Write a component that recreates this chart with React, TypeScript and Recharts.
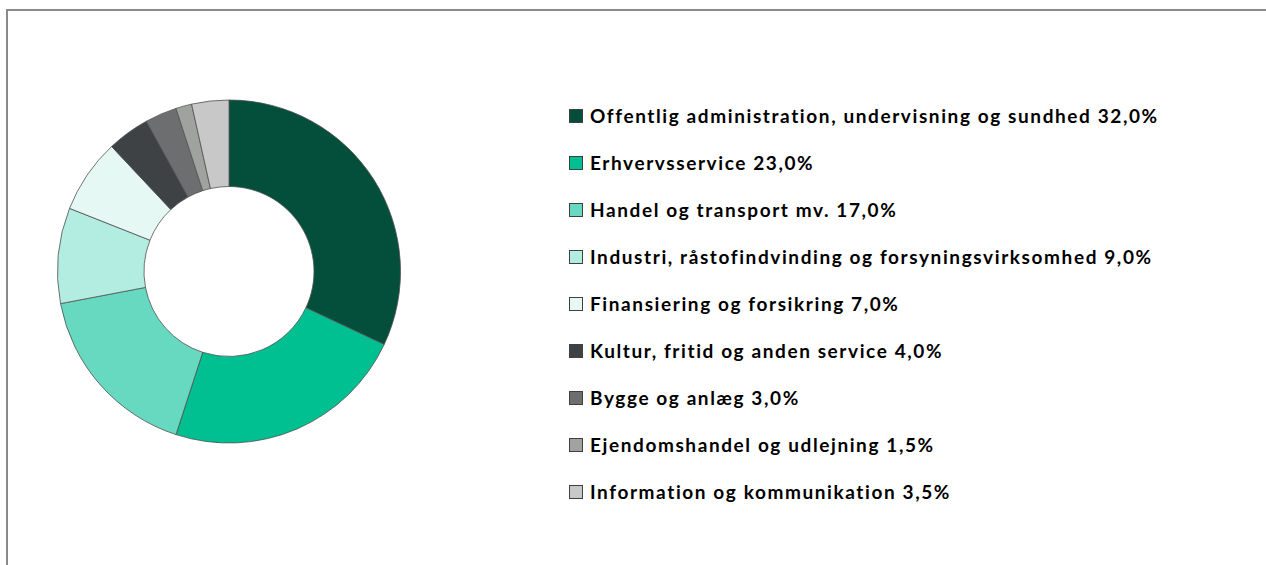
import React from 'react';
import { PieChart, Pie, Cell, Legend } from 'recharts';

const categories = [
  'Offentlig administration, undervisning og sundhed',
  'Erhvervsservice',
  'Handel og transport mv.',
  'Industri, råstofindvinding og forsyningsvirksomhed',
  'Finansiering og forsikring',
  'Kultur, fritid og anden service',
  'Bygge og anlæg',
  'Ejendomshandel og udlejning',
  'Information og kommunikation',
];
const values = [32.0, 23.0, 17.0, 9.0, 7.0, 4.0, 3.0, 1.5, 3.5];
const colors = ['#034f3b', '#00bf91', '#66d9c0', '#b3ece0', '#e6f8f3', '#3f4245', '#6d6e70', '#a0a29f', '#c8c8c8'];

const data = categories.map((name, i) => ({ name, value: values[i] }));

const fmt = (v: number) => v.toFixed(1).replace('.', ',') + '%';

const LegendContent = () => (
  <div style={{ fontFamily: 'Lato, "Open Sans", sans-serif', fontWeight: 700, fontSize: 19, letterSpacing: 1.6, color: '#000' }}>
    {data.map((d, i) => (
      <div key={d.name} style={{ height: 47, display: 'flex', alignItems: 'center', whiteSpace: 'nowrap' }}>
        <span
          style={{
            display: 'inline-block',
            width: 12,
            height: 12,
            background: colors[i],
            border: '1px solid #404040',
            marginRight: 7,
            flexShrink: 0,
          }}
        />
        <span>{d.name + ' ' + fmt(d.value)}</span>
      </div>
    ))}
  </div>
);

export default function App() {
  return (
    <div style={{ position: 'absolute', left: 0, top: 0, width: 1266, height: 565, overflow: 'hidden', background: '#fff' }}>
      <div
        style={{
          position: 'absolute',
          left: 6,
          top: 9,
          width: 1400,
          height: 700,
          border: '2px solid #8a8a8a',
        }}
      />
      <div style={{ position: 'absolute', left: 0, top: 0 }}>
        <PieChart width={1266} height={565}>
          <Pie
            data={data}
            dataKey="value"
            nameKey="name"
            cx={224}
            cy={266.5}
            outerRadius={171.5}
            innerRadius={85}
            startAngle={90}
            endAngle={-270}
            stroke="#505050"
            strokeWidth={0.8}
            isAnimationActive={false}
          >
            {data.map((d, i) => (
              <Cell key={d.name} fill={colors[i]} />
            ))}
          </Pie>
          <Legend
            layout="vertical"
            content={<LegendContent />}
            wrapperStyle={{ left: 569, top: 92, width: 690, height: 430 }}
          />
        </PieChart>
      </div>
    </div>
  );
}
